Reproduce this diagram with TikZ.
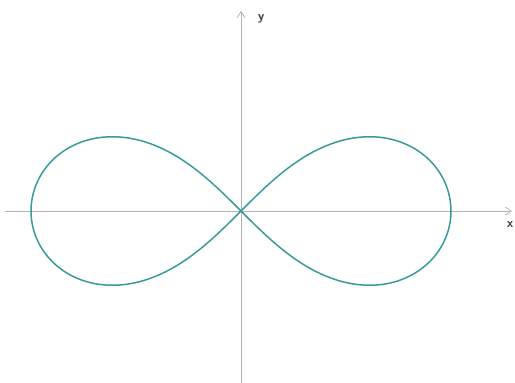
\documentclass[tikz,border=0pt]{standalone}
\usetikzlibrary{arrows.meta}
\definecolor{curvecol}{HTML}{3A9A9A}
\definecolor{axiscol}{HTML}{B4B4B4}
\tikzset{
  axis/.style={draw=axiscol, line width=0.8pt, -{Straight Barb[length=6pt,width=8pt]}},
  lbl/.style={font=\sffamily\bfseries\fontsize{13}{15}\selectfont, text=black!75, inner sep=0pt},
  curve/.style={draw=curvecol, line width=1.5pt}
}
\begin{document}
\begin{tikzpicture}[x=1pt,y=-1pt]
\useasboundingbox (0,0) rectangle (515,383);
\coordinate (xs) at (5,211);
\coordinate (xe) at (512,211);
\coordinate (ys) at (241,383);
\coordinate (ye) at (241,11);
\draw[axis] (xs) -- (xe);
\draw[axis] (ys) -- (ye);
\node[lbl] (ylab) at (261,19) {y};
\node[lbl] (xlab) at (510,225) {x};
\draw[curve, shift={(241,211)}] plot[domain=0:360, samples=240, smooth, variable=\t]
  ({210*cos(\t)/(1+sin(\t)^2)}, {-210*sin(\t)*cos(\t)/(1+sin(\t)^2)}) -- cycle;
\end{tikzpicture}
\end{document}
